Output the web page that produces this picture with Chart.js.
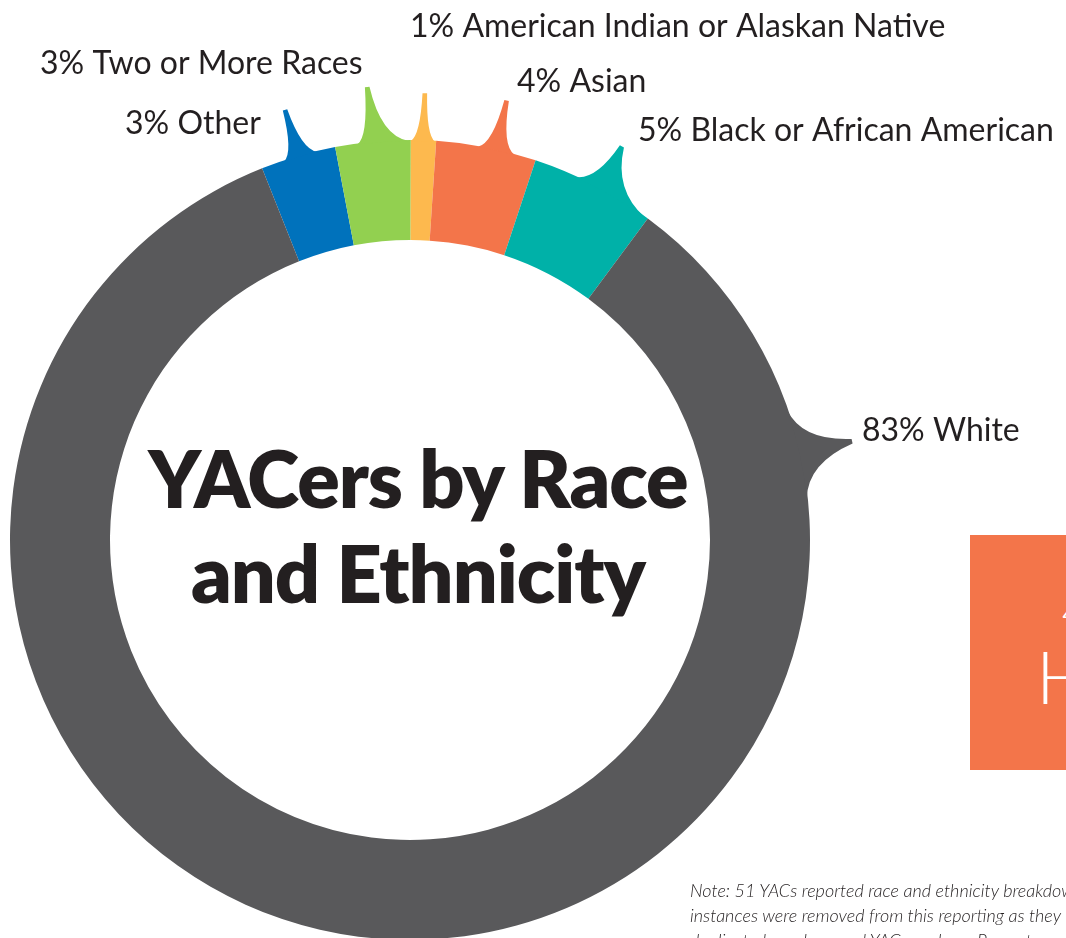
<!DOCTYPE html>
<html>
<head>
<meta charset="utf-8">
<script src="https://cdn.jsdelivr.net/npm/chart.js@4.4.1/dist/chart.umd.min.js"></script>
<style>
  html, body { margin: 0; padding: 0; background: #fff; }
  #wrap { position: relative; width: 1066px; height: 938px; overflow: hidden; }
  #chart { position: absolute; left: 0; top: 0; }
  .title {
    position: absolute; left: 118px; top: 430px; width: 600px;
    text-align: center; font: 800 79px/95px Lato, sans-serif; color: #231f20;
    letter-spacing: -1px;
  }
  .box {
    position: absolute; left: 970px; top: 535px; width: 140px; height: 235px;
    background: #f3754a; color: #fff; font-family: Lato, sans-serif; font-weight: 300;
  }
  .box .big { position: absolute; left: 92px; top: 52px; font-size: 40px; white-space: nowrap; }
  .box .word { position: absolute; left: 66px; top: 98px; font-size: 72px; white-space: nowrap; }
  .note {
    position: absolute; left: 690px; top: 878px; width: 600px;
    font: italic 300 18px/25px Lato, sans-serif; color: #231f20; white-space: nowrap;
  }
</style>
</head>
<body>
<div id="wrap">
  <canvas id="chart" width="1066" height="960"></canvas>
  <div class="title">YACers by Race<br>and Ethnicity</div>
  <div class="box"><div class="big">4%</div><div class="word">Hispanic</div></div>
  <div class="note">Note: 51 YACs reported race and ethnicity breakdowns. Some<br>instances were removed from this reporting as they<br>duplicated numbers and YAC numbers. Percentages may vary.</div>
</div>
<script>
const categories = ["Other", "Two or More Races", "American Indian or Alaskan Native", "Asian", "Black or African American", "White"];
const percents = [3, 3, 1, 4, 5, 83];
const colors = ["#0072bc", "#92d050", "#fdb94e", "#f3754a", "#00b1a8", "#59595b"];

// where each callout spike points and where its text sits (layout only)
const callouts = [
  { angle: -16.2, tip: 448, left: 2.2, right: 2.8, tx: 125, ty: 124 },
  { angle: -5.4, tip: 455, left: 2.2, right: 5.2, tx: 40, ty: 64 },
  { angle: 1.9, tip: 447, left: 1.8, right: 1.7, tx: 410, ty: 27 },
  { angle: 12.4, tip: 450, left: 2.6, right: 2.8, tx: 517, ty: 82 },
  { angle: 28.3, tip: 447, left: 3.8, right: 7.8, tx: 638, ty: 131 },
  { angle: 77.4, tip: 453, left: 6.3, right: 6.6, tx: 862, ty: 431 }
];

const rad = d => d * Math.PI / 180;

const calloutPlugin = {
  id: "callouts",
  afterDatasetsDraw(chart) {
    const ctx = chart.ctx;
    const arcs = chart.getDatasetMeta(0).data;
    arcs.forEach((arc, i) => {
      const c = callouts[i];
      const cx = arc.x, cy = arc.y, R = arc.outerRadius;
      const a = rad(c.angle - 90);
      const aL = rad(c.angle - c.left - 90), aR = rad(c.angle + c.right - 90);
      const pt = (ang, r) => [cx + Math.cos(ang) * r, cy + Math.sin(ang) * r];
      const px = -Math.sin(a), py = Math.cos(a);
      const tip = pt(a, c.tip);
      const w = 2.3;
      const bL = pt(aL, R - 1), bR = pt(aR, R - 1);
      const cL = pt(rad(c.angle - c.left * 0.25 - 90), R + 5);
      const cR = pt(rad(c.angle + c.right * 0.25 - 90), R + 5);
      ctx.save();
      ctx.fillStyle = colors[i];
      ctx.beginPath();
      ctx.moveTo(bL[0], bL[1]);
      ctx.quadraticCurveTo(cL[0], cL[1], tip[0] - px * w, tip[1] - py * w);
      ctx.arc(tip[0], tip[1], w, a + Math.PI / 2, a + Math.PI * 1.5, false);
      ctx.lineTo(tip[0] + px * w, tip[1] + py * w);
      ctx.quadraticCurveTo(cR[0], cR[1], bR[0], bR[1]);
      ctx.arc(cx, cy, R - 1, aR, aL, true);
      ctx.closePath();
      ctx.fill();

      ctx.fillStyle = "#231f20";
      ctx.font = "400 32px Lato, sans-serif";
      ctx.textBaseline = "middle";
      ctx.textAlign = "left";
      ctx.fillText(percents[i] + "% " + categories[i], c.tx, c.ty);
      ctx.restore();
    });
  }
};

new Chart(document.getElementById("chart"), {
  type: "doughnut",
  data: {
    labels: categories,
    datasets: [{
      data: percents,
      backgroundColor: colors,
      borderWidth: 0
    }]
  },
  options: {
    responsive: false,
    animation: false,
    cutout: "75%",
    rotation: -21.7,
    layout: { padding: { left: 10, top: 140, right: 256, bottom: 20 } },
    plugins: { legend: { display: false }, tooltip: { enabled: false } },
    events: []
  },
  plugins: [calloutPlugin]
});
</script>
</body>
</html>
